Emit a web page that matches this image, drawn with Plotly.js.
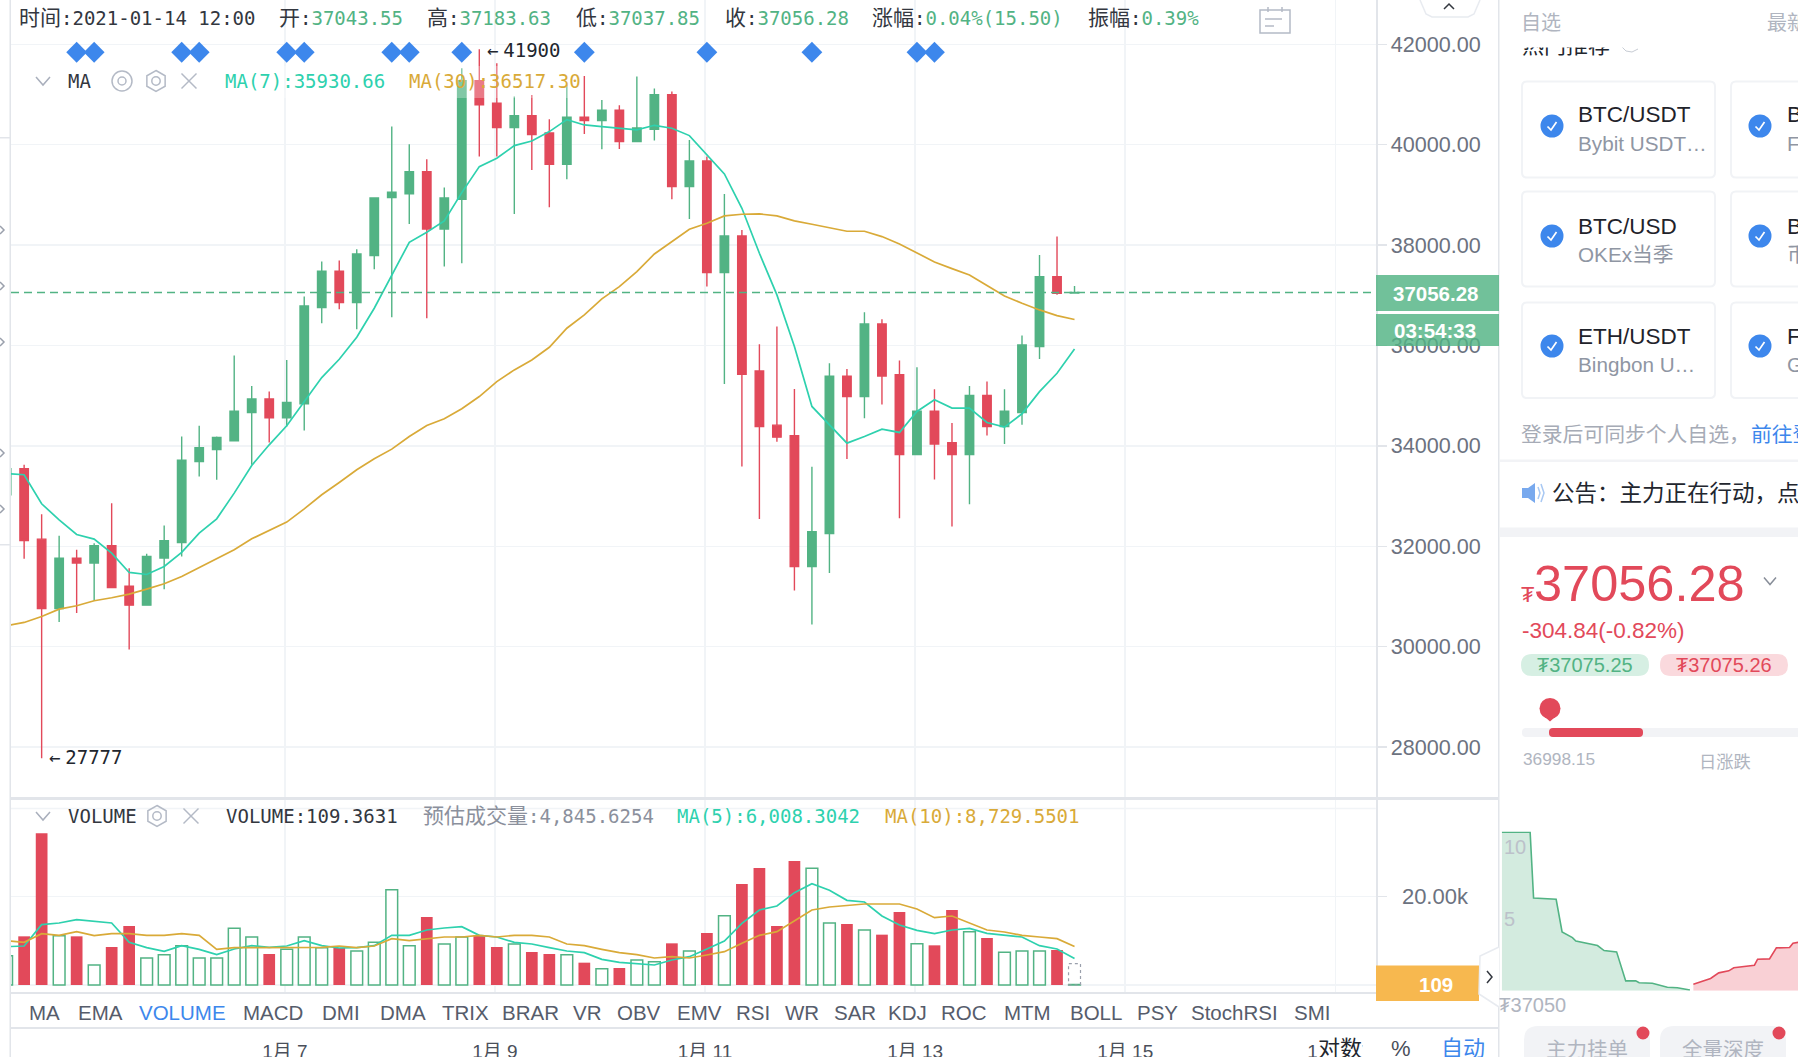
<!DOCTYPE html>
<html><head><meta charset="utf-8">
<script src="https://cdn.plot.ly/plotly-3.0.1.min.js"></script>
<style>html,body{margin:0;padding:0;background:#fff;overflow:hidden}#c{width:1798px;height:1057px}</style>
</head><body><div id="c"></div>
<script>
// ---------- data ----------
const times=['2021-01-04 08:00','2021-01-04 12:00','2021-01-04 16:00','2021-01-04 20:00',
'2021-01-05 00:00','2021-01-05 04:00','2021-01-05 08:00','2021-01-05 12:00','2021-01-05 16:00','2021-01-05 20:00',
'2021-01-06 00:00','2021-01-06 04:00','2021-01-06 08:00','2021-01-06 12:00','2021-01-06 16:00','2021-01-06 20:00',
'2021-01-07 00:00','2021-01-07 04:00','2021-01-07 08:00','2021-01-07 12:00','2021-01-07 16:00','2021-01-07 20:00',
'2021-01-08 00:00','2021-01-08 04:00','2021-01-08 08:00','2021-01-08 12:00','2021-01-08 16:00','2021-01-08 20:00',
'2021-01-09 00:00','2021-01-09 04:00','2021-01-09 08:00','2021-01-09 12:00','2021-01-09 16:00','2021-01-09 20:00',
'2021-01-10 00:00','2021-01-10 04:00','2021-01-10 08:00','2021-01-10 12:00','2021-01-10 16:00','2021-01-10 20:00',
'2021-01-11 00:00','2021-01-11 04:00','2021-01-11 08:00','2021-01-11 12:00','2021-01-11 16:00','2021-01-11 20:00',
'2021-01-12 00:00','2021-01-12 04:00','2021-01-12 08:00','2021-01-12 12:00','2021-01-12 16:00','2021-01-12 20:00',
'2021-01-13 00:00','2021-01-13 04:00','2021-01-13 08:00','2021-01-13 12:00','2021-01-13 16:00','2021-01-13 20:00',
'2021-01-14 00:00','2021-01-14 04:00','2021-01-14 08:00','2021-01-14 12:00'];
const opens=[33025,33543,32142,30761,31764,31664,32009,31206,30827,31764,32076,33689,33928,34101,34665,34935,34559,34838,36754,37478,36854,37790,38946,39019,39464,38321,38912,41276,40825,40340,40579,40234,39610,40546,40479,40685,40061,40307,40997,39165,39676,37452,38182,35493,34413,34201,31598,32255,35387,34982,36429,35420,33829,34692,34061,33829,35002,34386,34665,35978,37372,37043.55];
const highs=[33560,33623,32640,32209,31930,32062,32859,31564,31850,32414,34187,34400,34187,35798,35194,35081,35712,36974,37671,37691,37916,38952,40360,40008,39709,39145,41522,41900,41622,40958,40991,40506,41190,41369,40891,40785,41356,41117,41057,40094,39762,39019,38302,36024,36376,35134,33583,35646,35533,36661,36522,35699,35566,35128,34453,35194,35280,35128,36197,37804,38169,37183.63];
const lows=[33025,31750,27777,30489,30668,30914,31179,29944,30827,31146,31797,33390,33324,34101,33623,34068,34386,34307,36442,36721,36323,37518,36562,38421,36542,37571,37638,39762,39762,38620,39497,38753,39311,40214,39908,39915,40061,40081,38912,38521,37173,35234,33590,32541,34081,31120,30442,31465,33736,34552,34825,32560,33829,33331,32394,32839,34207,34035,34420,35732,37010,37037.85];
const closes=[33543,32115,30761,31764,31664,32009,31179,30827,31797,32109,33716,33962,34167,34692,34935,34559,34865,36788,37478,36854,37823,38939,39052,39464,38321,38939,41276,40792,40340,40579,40201,39610,40546,40479,40685,40061,40333,40997,39165,39676,37452,38182,35426,34386,34174,31598,32288,35387,34982,36429,35393,33829,34692,34035,33829,35002,34386,34692,36011,37372,37041,37056.28];
const ma7=[33450,33424,32846,32527,32235,32142,31863,31478,31438,31598,31877,32262,32547,33058,33610,34021,34400,34880,35360,35725,36163,36741,37405,38056,38255,38481,39045,39563,39729,39981,40074,40260,40499,40393,40360,40320,40294,40386,40327,40181,39796,39417,38733,37837,37007,35978,34785,34420,34054,34187,34333,34267,34685,34918,34752,34752,34466,34373,34639,35081,35446,35930.66];
const ma30=[30416,30482,30602,30748,30814,30914,30974,31047,31146,31252,31398,31578,31750,31930,32149,32308,32481,32746,33025,33271,33523,33742,33935,34187,34406,34539,34738,34982,35280,35513,35712,35964,36343,36608,36927,37173,37472,37823,38069,38315,38434,38580,38614,38620,38580,38481,38414,38341,38275,38275,38169,38023,37850,37664,37531,37405,37193,36987,36841,36708,36595,36517.30];
const volumes=[6644,11023,34352,11174,11023,4530,8607,13364,6116,6871,8909,6116,6116,12835,10872,7022,8079,10872,8456,8381,7701,9664,21593,8909,15402,9287,10872,11325,8607,9287,7475,7022,6871,5059,3700,3851,5663,5285,9438,7701,11778,15704,22877,26501,13364,28086,26425,14043,13817,12458,11401,16535,9362,8985,16988,12080,10646,7399,7701,7701,7928,109.3631];
const volMa5=[8683,8834,13666,14043,14798,14421,14043,9664,8456,7626,8909,8079,6871,8154,8909,8532,8834,10042,8909,8381,8456,8909,11250,11250,12458,12911,13213,11250,10872,9664,9287,8456,7701,7324,5814,5134,4908,4530,5663,6418,8154,9966,13968,16988,17894,20914,22952,21442,19177,18800,15629,13590,12382,11627,12458,12835,11703,11325,10872,8909,8154,6008.30];
const volMa10=[10042,9664,11627,11250,12080,11174,11627,11627,11250,11250,11627,11250,8079,8456,8456,8456,8456,8456,8532,8834,8456,8834,10495,10042,10419,10872,10872,11250,10872,11250,11250,10872,9287,8909,8079,7324,6871,6116,6418,6116,6795,7550,9438,11250,12080,14496,16988,17667,18045,18347,18347,18347,17214,15251,15629,13968,12458,12005,11250,10872,10495,8729.55];
const estimatedVolume=4845.6254;
const lastPrice=37056.28;
const volUpperGrid=40000;
const signalTimes=['2021-01-05 00:00','2021-01-05 04:00','2021-01-06 00:00','2021-01-06 04:00','2021-01-07 00:00','2021-01-07 04:00','2021-01-08 00:00','2021-01-08 04:00','2021-01-08 16:00','2021-01-09 20:00','2021-01-11 00:00','2021-01-12 00:00','2021-01-13 00:00','2021-01-13 04:00'];
const signalLevel=41841;
const gridTimes=['2021-01-06 23:35','2021-01-08 23:35','2021-01-10 23:35','2021-01-12 23:35','2021-01-14 23:35','2021-01-16 23:35'];
const dayLabels=['1月 7','1月 9','1月 11','1月 13','1月 15','1月 17'];
const priceTicks=[28000,30000,32000,34000,36000,38000,40000,42000];
const priceLabels=['28000.00','30000.00','32000.00','34000.00','36000.00','38000.00','40000.00','42000.00'];
const volTicks=[0,20000];
const volLabels=['','20.00k'];
const bidPrices=[37045.15,37049.65,37050.2,37053.8,37054.75,37056.4,37056.95,37060.4,37061.45,37063.45,37064.9,37066.5,37067.05,37069.15,37071.55,37073.15,37075.15];
const bidDepth=[11.04,11.04,6.46,6.37,4.10,3.70,3.47,3.15,2.80,2.71,0.69,0.69,0.56,0.53,0.25,0.21,0.05];
const askPrices=[37075.7,37078.45,37079.75,37081.35,37082.15,37085.45,37085.95,37087.85,37088.95,37091.05,37091.6,37092.45];
const askDepth=[0.46,0.86,1.25,1.39,1.6,1.78,2.2,2.22,2.99,3.01,3.31,3.38];
const indicatorTabs=['MA','EMA','VOLUME','MACD','DMI','DMA','TRIX','BRAR','VR','OBV','EMV','RSI','WR','SAR','KDJ','ROC','MTM','BOLL','PSY','StochRSI','SMI'];
const tabCenters=[44,100,182,273,341,403,465,530,587,639,699,753,802,855,907,964,1027,1096,1157,1234,1312];

// ---------- style ----------
const W=1798,H=1057;
const GREEN='#52b384',RED='#e2495a',TEAL='#2ed1ae',GOLD='#d9aa38',BLUE='#3d87ec',GRID='#f1f4f7',EDGE='#e2e5ea',DARK='#2a2e39',GREY='#b0b5c0';
const SANS='"Liberation Sans",Arial,"Noto Sans CJK SC",sans-serif';
const MONO='"DejaVu Sans Mono","Noto Sans CJK SC",monospace';
const fx=x=>x/W, fy=y=>1-y/H;

const shapes=[],anns=[];
function T(x,y,text,o={}){anns.push({xref:'paper',yref:'paper',x:fx(x),y:fy(y),text,showarrow:false,xanchor:o.a||'left',yanchor:'middle',
  font:{family:o.f||SANS,size:o.s||20,color:o.c||DARK},borderpad:0,bgcolor:o.bg,width:o.w,height:o.h,align:o.a||'left'});}
function R(x0,y0,x1,y1,fill,line,lw,layer){shapes.push({type:'rect',xref:'paper',yref:'paper',x0:fx(x0),x1:fx(x1),y0:fy(y0),y1:fy(y1),fillcolor:fill||'rgba(0,0,0,0)',line:{color:line||'rgba(0,0,0,0)',width:lw||0},layer:layer||'above'});}
function P(pts,color,lw,fill,close){let d=pts.map((p,i)=>(i?'L':'M')+fx(p[0])+','+fy(p[1])).join(' ')+(close?' Z':'');
  shapes.push({type:'path',xref:'paper',yref:'paper',path:d,line:{color:color||'rgba(0,0,0,0)',width:lw===undefined?1.5:lw},fillcolor:fill||'rgba(0,0,0,0)',layer:'above'});}
function C(cx,cy,r,fill,line,lw){shapes.push({type:'circle',xref:'paper',yref:'paper',x0:fx(cx-r),x1:fx(cx+r),y0:fy(cy-r),y1:fy(cy+r),fillcolor:fill||'rgba(0,0,0,0)',line:{color:line||'rgba(0,0,0,0)',width:lw||0},layer:'above'});}
function RR(x0,y0,x1,y1,r,fill,line,lw){const X=fx,Y=fy;
  const d=`M${X(x0+r)},${Y(y0)} L${X(x1-r)},${Y(y0)} Q${X(x1)},${Y(y0)} ${X(x1)},${Y(y0+r)} L${X(x1)},${Y(y1-r)} Q${X(x1)},${Y(y1)} ${X(x1-r)},${Y(y1)} L${X(x0+r)},${Y(y1)} Q${X(x0)},${Y(y1)} ${X(x0)},${Y(y1-r)} L${X(x0)},${Y(y0+r)} Q${X(x0)},${Y(y0)} ${X(x0+r)},${Y(y0)} Z`;
  shapes.push({type:'path',xref:'paper',yref:'paper',path:d,fillcolor:fill||'rgba(0,0,0,0)',line:{color:line||'rgba(0,0,0,0)',width:lw||0},layer:'above'});}
const chev=(cx,cy,w,h,c,lw)=>P([[cx-w,cy-h],[cx,cy+h],[cx+w,cy-h]],c,lw);
const hex=(cx,cy,r,c)=>{P([[cx,cy-r],[cx+r*.87,cy-r/2],[cx+r*.87,cy+r/2],[cx,cy+r],[cx-r*.87,cy+r/2],[cx-r*.87,cy-r/2]],c,1.5,null,true);C(cx,cy,r*.4,null,c,1.5);};
const cross=(cx,cy,r,c)=>{P([[cx-r,cy-r],[cx+r,cy+r]],c,1.5);P([[cx-r,cy+r],[cx+r,cy-r]],c,1.5);};

// ---------- chart overlays ----------
const val=s=>`<span style="color:${GREEN}">${s}</span>`;
const cjk=s=>`<span style="font-size:21px">${s}</span>`;
T(18,18,cjk('时间')+':2021-01-14 12:00',{f:MONO,s:19,c:'#33373f'});
T(278,18,cjk('开')+':'+val('37043.55'),{f:MONO,s:19,c:'#33373f'});
T(426,18,cjk('高')+':'+val('37183.63'),{f:MONO,s:19,c:'#33373f'});
T(575,18,cjk('低')+':'+val('37037.85'),{f:MONO,s:19,c:'#33373f'});
T(724,18,cjk('收')+':'+val('37056.28'),{f:MONO,s:19,c:'#33373f'});
T(871,18,cjk('涨幅')+':'+val('0.04%(15.50)'),{f:MONO,s:19,c:'#33373f'});
T(1087,18,cjk('振幅')+':'+val('0.39%'),{f:MONO,s:19,c:'#33373f'});
// calendar icon
R(1260,10,1290,33,'#fff','#b4bac6',1.5);P([[1268,7],[1268,12]],'#b4bac6');P([[1282,7],[1282,12]],'#b4bac6');P([[1265,19],[1282,19]],'#b4bac6');P([[1265,26],[1274,26]],'#b4bac6');
// legend veil over candles and legend texts
R(224,66,583,98,'rgba(255,255,255,0.28)');
chev(43,81,7,4,'#a9afbc',1.5);
T(67,81,'MA',{f:MONO,s:19,c:'#33373f'});
C(122,81,10,null,'#b4bac6',1.5);C(122,81,4,null,'#b4bac6',1.5);
hex(156,81,10.5,'#b4bac6');cross(189,81,7.5,'#b4bac6');
T(224,81,'MA(7):35930.66',{f:MONO,s:19,c:TEAL});
T(408,81,'MA(30):36517.30',{f:MONO,s:19,c:GOLD});
const gap='<span style="font-size:8px">&nbsp;</span>';
T(486,50,'←'+gap+'41900',{f:MONO,s:19,c:'#22262e'});
T(48,757,'←'+gap+'27777',{f:MONO,s:19,c:'#22262e'});
chev(43,816,7,4,'#a9afbc',1.5);
T(67,816,'VOLUME',{f:MONO,s:19,c:'#33373f'});
hex(157,816,10.5,'#b4bac6');cross(191,816,7.5,'#b4bac6');
T(225,816,'VOLUME:109.3631',{f:MONO,s:19,c:'#33373f'});
T(422,816,cjk('预估成交量')+':4,845.6254',{f:MONO,s:19,c:'#8b909c'});
T(676,816,'MA(5):6,008.3042',{f:MONO,s:19,c:TEAL});
T(884,816,'MA(10):8,729.5501',{f:MONO,s:19,c:GOLD});
// frame lines
R(9.5,0,11,1057,EDGE);
R(0,137,10,138.5,EDGE);R(0,544,10,545.5,EDGE);
[230,286,342,453,509].forEach(y=>{P([[0,y-4],[4,y],[0,y+4]],'#9aa0ac',1.5);});
R(10,797,1499,800,EDGE);
R(10,992,1499,994,EDGE);
R(10,1027,1499,1029,EDGE);
R(1498,0,1499.5,1057,EDGE);
// tab bar
indicatorTabs.forEach((t,i)=>T(tabCenters[i],1012,t,{a:'center',s:20.5,c:t==='VOLUME'?BLUE:'#565c6b'}));
T(1340,1048,'对数',{a:'center',s:22,c:'#22262e',bg:'#fff'});
T(1401,1048,'%',{a:'center',s:22,c:'#4a4f5a'});
T(1463,1048,'自动',{a:'center',s:22,c:BLUE});
// price / countdown / volume tags
R(1376,275,1499,311,'rgba(82,179,132,0.82)');
R(1376,314,1499,346,'rgba(82,179,132,0.82)');
T(1480,293,'<b>37056.28</b>',{a:'right',s:20.5,c:'#fff'});
T(1477,330,'<b>03:54:33</b>',{a:'right',s:20.5,c:'#fff'});
R(1376,965.5,1479,1001,'#f7b84f');
T(1436,984,'<b>109</b>',{a:'center',s:20.5,c:'#fff'});
P([[1499,947],[1480,956],[1479,994],[1499,1007]],'#e8ebf0',1.5,'#fff');
P([[1487,971],[1492,977],[1487,983]],'#33373f',1.5);
P([[1420,0],[1426,14],[1432,17],[1468,17],[1474,14],[1480,0]],'#e8ebf0',1.5,'#fff');
P([[1444,9],[1449,4],[1454,9]],'#33373f',1.5);

// ---------- right panel ----------
T(1521,45,'热门推荐',{s:22,c:'#22262e'});
T(1500,23.5,' ',{w:298,h:47,bg:'#fff'});
T(1520,23,'自选',{s:20,c:GREY});T(1766,23,'最新',{s:20,c:GREY});
P([[1622,47],[1626,51],[1632,52],[1638,49]],'#c7ccd4',1);
const cardsY=[[81.5,177.5],[191.5,286.5],[302.5,398]],checkY=[126,236,346],titleY=[114.7,226,336],subY=[143.3,254.6,364.7];
const card1=[['BTC/USDT','Bybit USDT…'],['BTC/USD','OKEx当季'],['ETH/USDT','Bingbon U…']];
const card2=[['B','F'],['B','币'],['F','G']];
cardsY.forEach((c,i)=>{
  RR(1522,c[0],1715,c[1],5,'#fff','#f1f3f6',2);RR(1731,c[0],1830,c[1],5,'#fff','#f1f3f6',2);
  [1552,1760].forEach(x=>{C(x,checkY[i],11.5,BLUE);P([[x-4.5,checkY[i]+.5],[x-1,checkY[i]+4],[x+4.5,checkY[i]-4]],'#fff',1.7);});
  T(1576.5,titleY[i],card1[i][0],{s:22.5,c:'#1f232b'});T(1576.5,subY[i],card1[i][1],{s:20.7,c:'#8f96a3'});
  T(1786,titleY[i],card2[i][0],{s:22.5,c:'#1f232b'});T(1786,subY[i],card2[i][1],{s:20.7,c:'#8f96a3'});
});
T(1520,434.5,'登录后可同步个人自选，',{s:20.8,c:'#a6abb6'});
T(1750,434.5,'前往登录',{s:20.8,c:BLUE});
R(1500,459.5,1798,462,'#f2f3f6');
P([[1522,488],[1528,488],[1535,483],[1535,503],[1528,498],[1522,498]],null,0,'#78a9ee',true);
P([[1538,487],[1540,493],[1538,499]],'#a8c8f3',1.5);P([[1541,484],[1544,493],[1541,502]],'#a8c8f3',1.5);
T(1551,493,'公告：主力正在行动，点击查看详情',{s:22.5,c:'#22262e'});
R(1500,527.5,1798,537,'#f2f3f6');
T(1520,594,'₮',{s:22,c:RED});
T(1533,583,'37056.28',{s:50.5,c:RED});
chev(1770,581,6,3.5,'#888e99',1.5);
T(1521,630,'-304.84(-0.82%)',{s:22.5,c:RED});
RR(1521,654,1649,676,11,'#d6efe3');RR(1660,654,1788,676,11,'#fad9dd');
T(1585,665,'₮37075.25',{a:'center',s:20,c:GREEN});T(1724,665,'₮37075.26',{a:'center',s:20,c:RED});
RR(1522,728,1830,737,4,'#f2f3f6');RR(1549,728,1643,737,4,RED);
C(1550,708.5,10.5,RED);P([[1541,713.5],[1550,721.5],[1559,713.5]],null,0,RED,true);
T(1522,759,'36998.15',{s:17.3,c:GREY});T(1698,762,'日涨跌',{s:17.3,c:GREY});
RR(1524,1026,1650,1070,14,'#f2f3f6');RR(1660,1026,1786,1070,14,'#f2f3f6');
T(1587,1049,'主力挂单',{a:'center',s:20.5,c:GREY});T(1723,1049,'全量深度',{a:'center',s:20.5,c:GREY});
C(1643,1033,6.5,RED);C(1779,1033,6.5,RED);

// price line, upper volume grid & estimated volume box, in data coordinates
shapes.push({type:'line',xref:'x',yref:'y',x0:'2021-01-04 09:00',x1:'2021-01-17 08:50',y0:lastPrice,y1:lastPrice,line:{color:GREEN,width:1.5,dash:'8px,5px'},layer:'above'});
shapes.push({type:'line',xref:'x',yref:'y2',x0:'2021-01-04 09:00',x1:'2021-01-17 08:50',y0:volUpperGrid,y1:volUpperGrid,line:{color:GRID,width:1.5},layer:'below'});
shapes.push({type:'rect',xref:'x',yref:'y2',x0:'2021-01-14 10:38',x1:'2021-01-14 13:22',y0:0,y1:estimatedVolume,line:{color:'#9aa0ac',width:1.2,dash:'3px,3px'},fillcolor:'rgba(0,0,0,0)',layer:'above'});

// ---------- traces ----------
const isUp=i=>closes[i]>=opens[i];
const idx=times.map((_,i)=>i);
const upI=idx.filter(isUp),dnI=idx.filter(i=>!isUp(i));
const barW=2.68*3600*1000;
const traces=[
 {type:'candlestick',x:times,open:opens,high:highs,low:lows,close:closes,xaxis:'x',yaxis:'y',whiskerwidth:0,
  increasing:{line:{color:GREEN,width:1.4},fillcolor:GREEN},decreasing:{line:{color:RED,width:1.4},fillcolor:RED},hoverinfo:'skip',showlegend:false},
 {type:'scatter',mode:'lines',x:times,y:ma7,xaxis:'x',yaxis:'y',line:{color:TEAL,width:1.7},hoverinfo:'skip'},
 {type:'scatter',mode:'lines',x:times,y:ma30,xaxis:'x',yaxis:'y',line:{color:GOLD,width:1.7},hoverinfo:'skip'},
 {type:'scatter',mode:'markers',x:signalTimes,y:signalTimes.map(()=>signalLevel),xaxis:'x',yaxis:'y',marker:{symbol:'diamond',size:16,color:BLUE},hoverinfo:'skip'},
 {type:'bar',x:upI.map(i=>times[i]),y:upI.map(i=>volumes[i]),width:barW,xaxis:'x2',yaxis:'y2',marker:{color:'#fff',line:{color:GREEN,width:1.5}},hoverinfo:'skip'},
 {type:'bar',x:dnI.map(i=>times[i]),y:dnI.map(i=>volumes[i]),width:barW,xaxis:'x2',yaxis:'y2',marker:{color:RED,line:{color:RED,width:0}},hoverinfo:'skip'},
 {type:'scatter',mode:'lines',x:times,y:volMa5,xaxis:'x2',yaxis:'y2',line:{color:TEAL,width:1.7},hoverinfo:'skip'},
 {type:'scatter',mode:'lines',x:times,y:volMa10,xaxis:'x2',yaxis:'y2',line:{color:GOLD,width:1.7},hoverinfo:'skip'},
 {type:'scatter',mode:'lines',x:bidPrices,y:bidDepth,xaxis:'x3',yaxis:'y3',line:{color:GREEN,width:1.6},fill:'tozeroy',fillcolor:'#d3ebdf',hoverinfo:'skip'},
 {type:'scatter',mode:'lines',x:askPrices,y:askDepth,xaxis:'x3',yaxis:'y3',line:{color:RED,width:1.6},fill:'tozeroy',fillcolor:'#f9d0d5',hoverinfo:'skip'}
];
const xRange=['2021-01-04 09:00','2021-01-17 08:53'];
const priceTop=42882,priceBottom=26985;
const axisFont={family:SANS,size:21.6,color:'#6c7280'};
const layout={width:W,height:H,margin:{l:0,r:0,t:0,b:0},paper_bgcolor:'#fff',plot_bgcolor:'#fff',showlegend:false,barmode:'overlay',boxgap:0.31,font:{family:SANS},
 xaxis:{domain:[fx(11),fx(1376)],anchor:'y',type:'date',range:xRange,tickmode:'array',tickvals:gridTimes,ticktext:dayLabels.map(()=>''),showticklabels:false,ticks:'',showgrid:true,gridcolor:GRID,gridwidth:1.5,zeroline:false,showline:false,rangeslider:{visible:false},fixedrange:true},
 yaxis:{domain:[fy(798),1],anchor:'x',side:'right',range:[priceBottom,priceTop],tickmode:'array',tickvals:priceTicks,ticktext:priceLabels,tickfont:axisFont,ticks:'outside',ticklen:9,tickwidth:1.5,tickcolor:EDGE,showgrid:true,gridcolor:GRID,gridwidth:1.5,zeroline:false,showline:true,linecolor:EDGE,linewidth:1.5,fixedrange:true},
 xaxis2:{domain:[fx(11),fx(1376)],anchor:'y2',matches:'x',type:'date',tickmode:'array',tickvals:gridTimes,ticktext:dayLabels,tickfont:{family:SANS,size:19,color:'#4a4f5a'},ticklabelstandoff:45,tickangle:0,ticks:'',showgrid:true,gridcolor:GRID,gridwidth:1.5,zeroline:false,showline:false,fixedrange:true},
 yaxis2:{domain:[fy(993),fy(800)],anchor:'x2',side:'right',range:[-1811,41900],tickmode:'array',tickvals:volTicks,ticktext:volLabels,tickfont:{family:SANS,size:22,color:'#6c7280'},ticklabelstandoff:11,ticks:'outside',ticklen:9,tickwidth:1.5,tickcolor:EDGE,showgrid:true,gridcolor:GRID,gridwidth:1.5,zeroline:false,showline:true,linecolor:EDGE,linewidth:1.5,fixedrange:true},
 xaxis3:{domain:[fx(1501),1],anchor:'y3',range:[37045,37092.4],tickmode:'array',tickvals:[37050],ticktext:['₮37050'],tickfont:{family:SANS,size:20,color:GREY},ticks:'',showgrid:false,zeroline:false,showline:false,fixedrange:true},
 yaxis3:{domain:[fy(990.8),fy(831.4)],anchor:'x3',range:[0,11.1],tickmode:'array',tickvals:[5,10],ticktext:['5','10'],ticklabelposition:'inside',tickfont:{family:SANS,size:20,color:'#bcc1ca'},ticks:'',showgrid:false,zeroline:false,showline:false,fixedrange:true},
 shapes,annotations:anns};
Plotly.newPlot('c',traces,layout,{staticPlot:true,displayModeBar:false});
</script></body></html>
